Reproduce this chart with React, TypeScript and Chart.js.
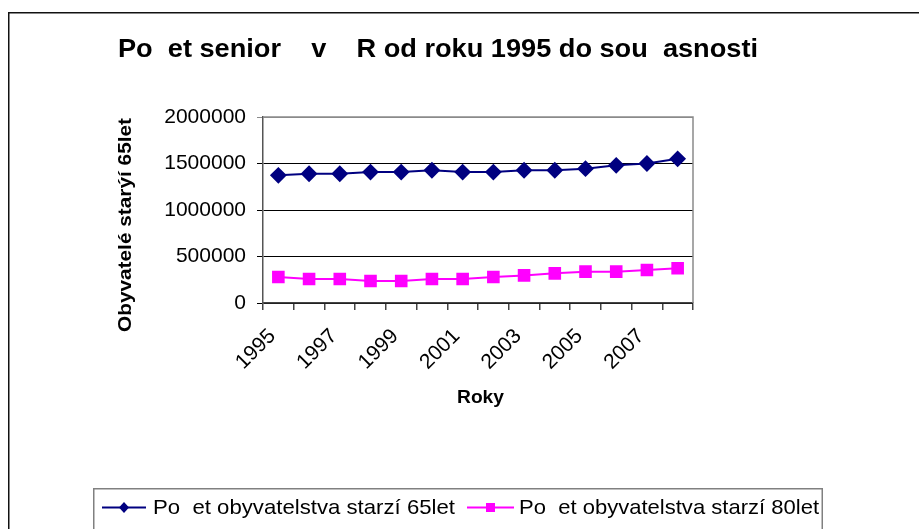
import React, { useEffect, useRef } from "react";
import { Chart, registerables } from "chart.js";

Chart.register(...registerables);

const years = ["1995", "1996", "1997", "1998", "1999", "2000", "2001", "2002", "2003", "2004", "2005", "2006", "2007", "2008"];
const seniors65 = [1373000, 1390000, 1390000, 1408000, 1408000, 1427000, 1408000, 1408000, 1427000, 1427000, 1444000, 1480000, 1500000, 1550000];
const seniors80 = [280000, 258000, 258000, 237000, 237000, 258000, 258000, 280000, 297000, 319000, 337000, 337000, 355000, 373000];
const yTicks = [0, 500000, 1000000, 1500000, 2000000];

const titleText = "Po  et senior    v    R od roku 1995 do sou  asnosti";
const yTitleText = "Obyvatelé starýí 65let";
const xTitleText = "Roky";
const label65 = "Po  et obyvatelstva starzí 65let";
const label80 = "Po  et obyvatelstva starzí 80let";

const FONT = "'Liberation Sans', Arial, Helvetica, sans-serif";

function fitText(ctx: CanvasRenderingContext2D, text: string, x: number, y: number, width: number) {
  const w = ctx.measureText(text).width;
  ctx.save();
  ctx.translate(x, y);
  ctx.scale(width / w, 1);
  ctx.fillText(text, 0, 0);
  ctx.restore();
}

const decorPlugin = {
  id: "decor",
  afterDraw(chart: any) {
    const ctx: CanvasRenderingContext2D = chart.ctx;
    const { left, right, top, bottom } = chart.chartArea;
    ctx.save();
    // plot area grey border (top, right)
    ctx.strokeStyle = "#8a8a8a";
    ctx.lineWidth = 1.5;
    ctx.beginPath();
    ctx.moveTo(left, top);
    ctx.lineTo(right, top);
    ctx.lineTo(right, bottom);
    ctx.stroke();

    // outer frame
    ctx.strokeStyle = "#111";
    ctx.lineWidth = 1.5;
    ctx.beginPath();
    ctx.moveTo(8.75, 540);
    ctx.lineTo(8.75, 12.75);
    ctx.lineTo(930, 12.75);
    ctx.stroke();

    ctx.fillStyle = "#000";
    ctx.textBaseline = "alphabetic";
    ctx.textAlign = "left";
    // title
    ctx.font = `bold 25px ${FONT}`;
    fitText(ctx, titleText, 118, 57, 640);

    // x title
    ctx.font = `bold 18px ${FONT}`;
    ctx.textAlign = "left";
    fitText(ctx, xTitleText, 457, 403, 47);

    // y title
    ctx.save();
    ctx.translate(131, 225);
    ctx.rotate(-Math.PI / 2);
    ctx.font = `bold 19px ${FONT}`;
    ctx.textAlign = "left";
    const yw = ctx.measureText(yTitleText).width;
    ctx.scale(214 / yw, 1);
    ctx.fillText(yTitleText, -yw / 2, 0);
    ctx.restore();

    // legend box
    ctx.strokeStyle = "#808080";
    ctx.lineWidth = 1.5;
    ctx.strokeRect(93.75, 488.75, 728.5, 60);

    const items = [
      { x0: 102, x1: 146, tx: 153, tw: 302 },
      { x0: 467, x1: 514, tx: 519, tw: 300 },
    ];
    const ly = 507.5;
    chart.data.datasets.forEach((ds: any, i: number) => {
      const it = items[i];
      ctx.strokeStyle = ds.borderColor;
      ctx.lineWidth = 2;
      ctx.beginPath();
      ctx.moveTo(it.x0, ly);
      ctx.lineTo(it.x1, ly);
      ctx.stroke();
      ctx.fillStyle = ds.pointBackgroundColor;
      const cx = (it.x0 + it.x1) / 2;
      ctx.beginPath();
      if (ds.pointStyle === "rectRot") {
        ctx.moveTo(cx, ly - 5.5);
        ctx.lineTo(cx + 5, ly);
        ctx.lineTo(cx, ly + 5.5);
        ctx.lineTo(cx - 5, ly);
        ctx.closePath();
      } else {
        ctx.rect(cx - 4.5, ly - 4.5, 9, 9);
      }
      ctx.fill();
      ctx.fillStyle = "#000";
      ctx.font = `21px ${FONT}`;
      ctx.textAlign = "left";
      ctx.textBaseline = "middle";
      fitText(ctx, ds.label, it.tx, ly + 1, it.tw);
    });
    ctx.restore();
  },
};

export default function App() {
  const ref = useRef<HTMLCanvasElement>(null);
  useEffect(() => {
    if (!ref.current) return;
    const chart = new Chart(ref.current, {
      type: "line",
      data: {
        labels: years,
        datasets: [
          {
            label: label65,
            data: seniors65,
            borderColor: "#000080",
            backgroundColor: "#000080",
            pointBackgroundColor: "#000080",
            pointBorderColor: "#000080",
            pointStyle: "rectRot",
            pointRadius: 7,
            borderWidth: 2,
            tension: 0,
          },
          {
            label: label80,
            data: seniors80,
            borderColor: "#FF00FF",
            backgroundColor: "#FF00FF",
            pointBackgroundColor: "#FF00FF",
            pointBorderColor: "#FF00FF",
            pointStyle: "rect",
            pointRadius: 7.5,
            borderWidth: 2,
            tension: 0,
          },
        ],
      },
      options: {
        animation: false,
        responsive: false,
        devicePixelRatio: 1,
        layout: { padding: { left: 0, right: 226, top: 117, bottom: 0 } },
        plugins: {
          legend: { display: false },
          title: { display: false },
          tooltip: { enabled: false },
        },
        scales: {
          x: {
            type: "category",
            offset: true,
            grid: {
              offset: true,
              drawOnChartArea: false,
              drawTicks: true,
              tickLength: 7,
              color: "#444",
              lineWidth: 1.5,
            },
            border: { color: "#444", width: 1.5 },
            ticks: {
              autoSkip: false,
              maxRotation: 45,
              minRotation: 45,
              labelOffset: -6,
              padding: 14,
              color: "#000",
              font: { family: FONT, size: 21 },
              callback: (_v: any, i: number) => (i % 2 === 0 ? years[i] : ""),
            },
            afterFit: (s: any) => {
              s.height = 226;
            },
          },
          y: {
            min: 0,
            max: 2000000,
            afterBuildTicks: (s: any) => {
              s.ticks = yTicks.map((v) => ({ value: v }));
            },
            grid: {
              color: (c: any) => (c.tick && c.tick.value === 2000000 ? "#8a8a8a" : "#000"),
              lineWidth: 1,
              tickLength: 6,
            },
            border: { color: "#555", width: 1.5 },
            ticks: {
              padding: 11,
              color: "#000",
              font: { family: FONT, size: 21 },
              callback: (v: any) => String(v),
            },
            afterFit: (s: any) => {
              s.width = 263;
            },
          },
        },
      },
      plugins: [decorPlugin],
    });
    return () => chart.destroy();
  }, []);
  return (
    <div style={{ position: "absolute", left: 0, top: 0, width: 919, height: 529, background: "#fff" }}>
      <canvas ref={ref} width={919} height={529} style={{ width: 919, height: 529, display: "block" }} />
    </div>
  );
}
